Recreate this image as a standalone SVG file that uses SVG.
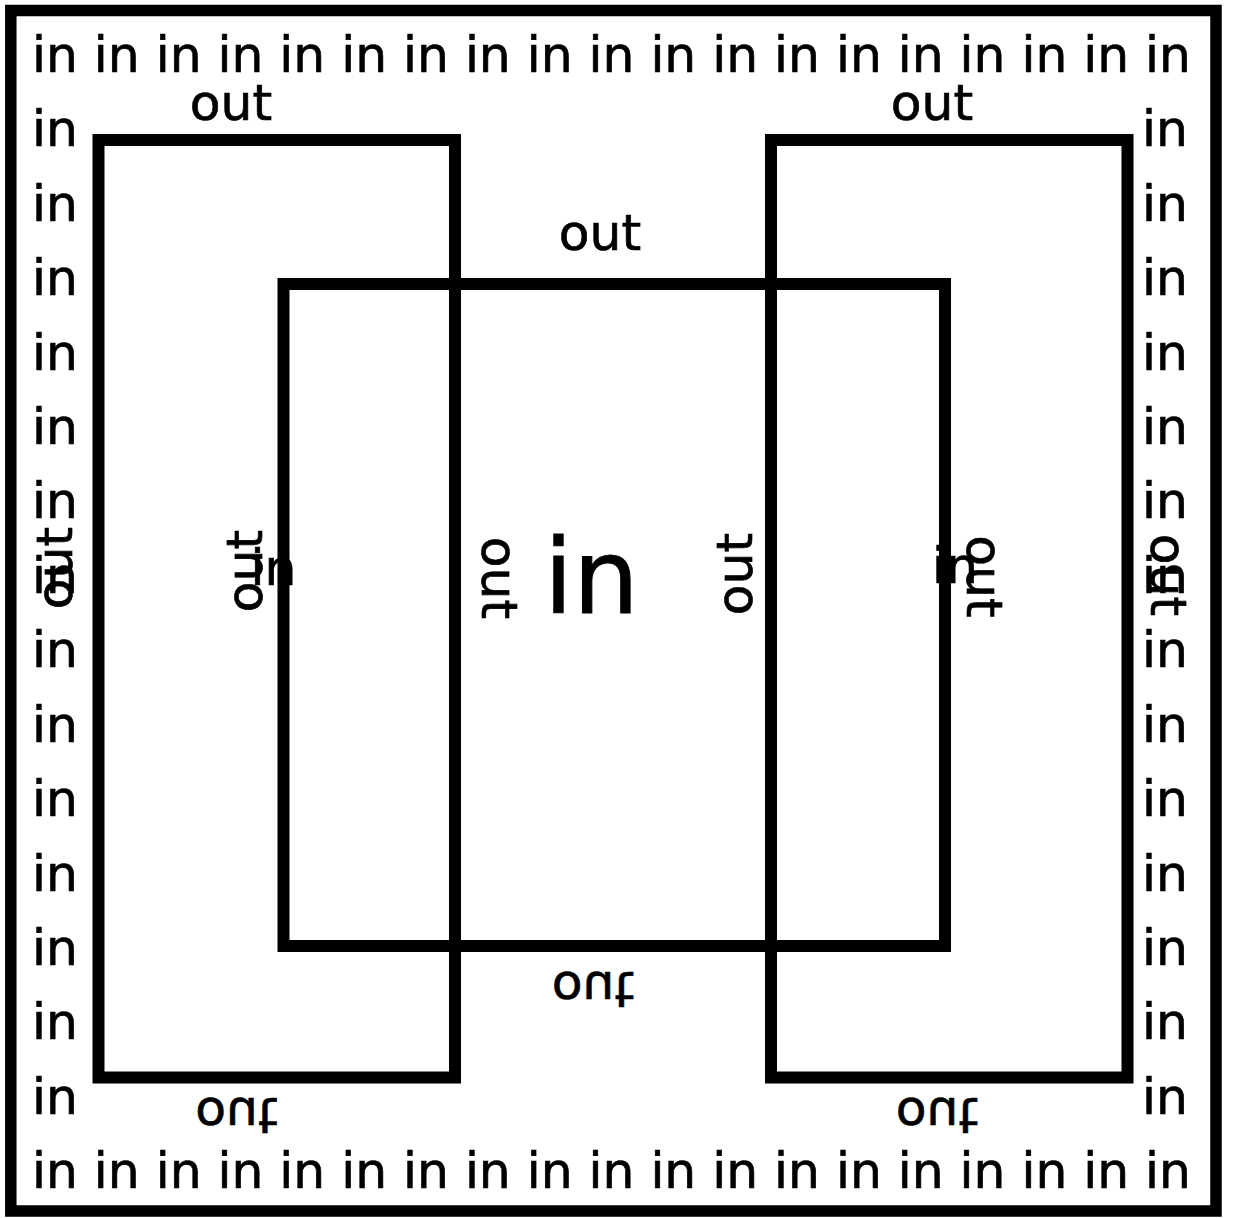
<svg xmlns="http://www.w3.org/2000/svg" width="1233" height="1218" viewBox="0 0 1233 1218">
  <style>
    .frame { fill: none; stroke: #000; stroke-width: 11.5; }
    .box { fill: none; stroke: #000; stroke-width: 12; }
    .lbl { font-family: "DejaVu Sans", sans-serif; font-size: 50.3px; fill: #000; stroke: #000; stroke-width: 0.7; }
    .mid { text-anchor: middle; }
    .big { font-size: 104px; stroke-width: 1; }
  </style>
  <rect width="1233" height="1218" fill="#fff"/>

  <!-- outer frame -->
  <g id="frame">
    <rect class="frame" x="10.8" y="10.5" width="1205.2" height="1200.5"/>
  </g>

  <!-- border rows and columns of "in" -->
  <g id="border-labels" class="lbl">
    <text x="32" y="72">in in in in in in in in in in in in in in in in in in in</text>
    <text x="32" y="1188.3">in in in in in in in in in in in in in in in in in in in</text>
    <text x="32" y="146.1">in</text><text x="1142" y="146.1">in</text>
    <text x="32" y="220.6">in</text><text x="1142" y="220.6">in</text>
    <text x="32" y="295">in</text><text x="1142" y="295">in</text>
    <text x="32" y="369.5">in</text><text x="1142" y="369.5">in</text>
    <text x="32" y="443.9">in</text><text x="1142" y="443.9">in</text>
    <text x="32" y="518.3">in</text><text x="1142" y="518.3">in</text>
    <text x="32" y="592.8">in</text><text x="1142" y="592.8">in</text>
    <text x="32" y="667.2">in</text><text x="1142" y="667.2">in</text>
    <text x="32" y="741.7">in</text><text x="1142" y="741.7">in</text>
    <text x="32" y="816.1">in</text><text x="1142" y="816.1">in</text>
    <text x="32" y="890.5">in</text><text x="1142" y="890.5">in</text>
    <text x="32" y="965">in</text><text x="1142" y="965">in</text>
    <text x="32" y="1039.4">in</text><text x="1142" y="1039.4">in</text>
    <text x="32" y="1113.9">in</text><text x="1142" y="1113.9">in</text>
  </g>

  <!-- left box -->
  <g id="box-left">
    <rect class="box" x="98.5" y="140" width="356.5" height="937.5"/>
    <text class="lbl mid" x="231" y="120">out</text>
    <text class="lbl mid" transform="translate(236.5,1098.3) scale(1,-1)">out</text>
    <text class="lbl mid" transform="translate(72,568) rotate(-90)">out</text>
    <text class="lbl mid" transform="translate(482,578) rotate(90)">out</text>
  </g>

  <!-- right box -->
  <g id="box-right">
    <rect class="box" x="771" y="140" width="356.5" height="937.5"/>
    <text class="lbl mid" x="932" y="120">out</text>
    <text class="lbl mid" transform="translate(937,1098.3) scale(1,-1)">out</text>
    <text class="lbl mid" transform="translate(751.7,574) rotate(-90)">out</text>
    <text class="lbl mid" transform="translate(1151,575) rotate(90)">out</text>
  </g>

  <!-- middle box -->
  <g id="box-middle">
    <rect class="box" x="283.5" y="284" width="661.5" height="662"/>
    <text class="lbl mid" x="600" y="250">out</text>
    <text class="lbl mid" transform="translate(593,971.7) scale(1,-1)">out</text>
    <text class="lbl mid" transform="translate(262,571) rotate(-90)">out</text>
    <text class="lbl mid" transform="translate(967,576.5) rotate(90)">out</text>
    <text class="lbl" x="250.5" y="585">in</text>
    <text class="lbl" x="932" y="583">in</text>
    <text class="lbl big" x="544" y="613">in</text>
  </g>
</svg>
